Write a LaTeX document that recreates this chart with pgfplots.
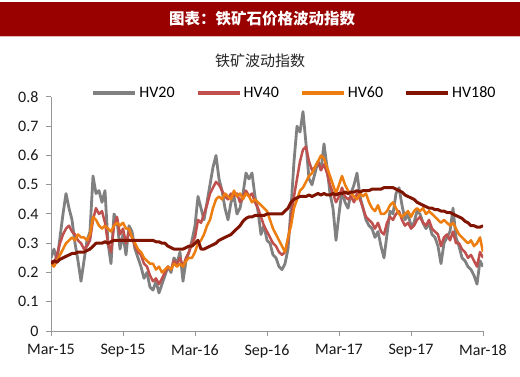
\documentclass[border=0pt]{standalone}
\usepackage{fontspec}
\setmainfont{Carlito}
\newfontfamily\cjk{Noto Sans CJK SC}
\usepackage{pgfplots}
\usepackage{pgfplotstable}
\pgfplotsset{compat=1.18}
\definecolor{hdr}{RGB}{153,0,0}
\definecolor{hvgray}{RGB}{128,128,128}
\definecolor{hvred}{RGB}{192,80,77}
\definecolor{hvorange}{RGB}{237,125,15}
\definecolor{hvdark}{RGB}{128,20,0}
\definecolor{axisgray}{RGB}{150,150,150}
\pgfplotstableread{
m g r o d
0 0.25 0.24 0.23 0.23
0.25 0.28 0.23 0.22 0.24
0.5 0.24 0.26 0.24 0.235
0.75 0.32 0.30 0.26 0.245
1 0.40 0.33 0.28 0.25
1.25 0.47 0.35 0.30 0.255
1.5 0.42 0.36 0.31 0.26
1.75 0.38 0.34 0.32 0.265
2 0.30 0.33 0.31 0.265
2.25 0.24 0.31 0.33 0.27
2.5 0.17 0.30 0.32 0.27
2.75 0.24 0.28 0.32 0.27
3 0.31 0.29 0.31 0.275
3.25 0.34 0.31 0.33 0.28
3.5 0.53 0.38 0.39 0.29
3.75 0.47 0.42 0.38 0.30
4 0.48 0.40 0.36 0.30
4.25 0.44 0.41 0.35 0.30
4.5 0.48 0.37 0.36 0.305
4.75 0.30 0.30 0.35 0.30
5 0.23 0.27 0.34 0.305
5.25 0.40 0.36 0.36 0.31
5.5 0.38 0.39 0.37 0.31
5.75 0.28 0.33 0.36 0.31
6 0.33 0.35 0.37 0.31
6.25 0.26 0.30 0.35 0.31
6.5 0.36 0.34 0.35 0.31
6.75 0.34 0.32 0.32 0.31
7 0.28 0.29 0.30 0.31
7.25 0.25 0.27 0.28 0.31
7.5 0.22 0.26 0.27 0.31
7.75 0.18 0.23 0.25 0.31
8 0.20 0.22 0.24 0.31
8.25 0.15 0.19 0.23 0.31
8.5 0.14 0.17 0.23 0.31
8.75 0.17 0.18 0.21 0.305
9 0.13 0.16 0.22 0.305
9.25 0.16 0.18 0.20 0.30
9.5 0.19 0.20 0.21 0.30
9.75 0.22 0.22 0.22 0.29
10 0.20 0.21 0.21 0.285
10.25 0.25 0.24 0.23 0.28
10.5 0.23 0.23 0.22 0.28
10.75 0.27 0.25 0.23 0.28
11 0.17 0.22 0.22 0.28
11.25 0.24 0.25 0.24 0.285
11.5 0.27 0.27 0.25 0.29
11.75 0.31 0.30 0.25 0.29
12 0.36 0.32 0.27 0.30
12.25 0.46 0.38 0.30 0.31
12.5 0.42 0.37 0.31 0.28
12.75 0.38 0.40 0.33 0.28
13 0.44 0.43 0.36 0.285
13.25 0.50 0.47 0.38 0.29
13.5 0.56 0.49 0.42 0.295
13.75 0.60 0.51 0.45 0.30
14 0.52 0.50 0.46 0.31
14.25 0.48 0.48 0.45 0.315
14.5 0.42 0.46 0.47 0.32
14.75 0.38 0.45 0.46 0.325
15 0.44 0.47 0.45 0.33
15.25 0.46 0.46 0.48 0.34
15.5 0.40 0.47 0.46 0.35
15.75 0.42 0.44 0.47 0.36
16 0.47 0.46 0.45 0.375
16.25 0.54 0.48 0.47 0.385
16.5 0.52 0.46 0.46 0.39
16.75 0.54 0.47 0.44 0.39
17 0.46 0.44 0.45 0.395
17.25 0.41 0.42 0.44 0.395
17.5 0.33 0.39 0.43 0.395
17.75 0.36 0.36 0.42 0.395
18 0.31 0.34 0.41 0.40
18.25 0.30 0.32 0.38 0.40
18.5 0.26 0.30 0.35 0.40
18.75 0.25 0.29 0.33 0.40
19 0.22 0.27 0.31 0.40
19.25 0.21 0.26 0.29 0.40
19.5 0.23 0.27 0.27 0.41
19.75 0.28 0.31 0.32 0.42
20 0.42 0.38 0.36 0.44
20.25 0.58 0.46 0.42 0.45
20.5 0.70 0.52 0.45 0.455
20.75 0.68 0.58 0.48 0.46
21 0.75 0.62 0.49 0.46
21.25 0.64 0.63 0.51 0.46
21.5 0.52 0.58 0.53 0.465
21.75 0.50 0.55 0.54 0.46
22 0.54 0.56 0.56 0.465
22.25 0.58 0.58 0.58 0.47
22.5 0.55 0.55 0.60 0.465
22.75 0.64 0.57 0.59 0.47
23 0.56 0.54 0.56 0.465
23.25 0.47 0.50 0.53 0.465
23.5 0.42 0.47 0.50 0.47
23.75 0.31 0.44 0.47 0.465
24 0.40 0.46 0.50 0.47
24.25 0.48 0.49 0.53 0.47
24.5 0.44 0.46 0.50 0.475
24.75 0.42 0.45 0.48 0.47
25 0.47 0.46 0.47 0.475
25.25 0.50 0.44 0.46 0.475
25.5 0.54 0.47 0.45 0.48
25.75 0.46 0.45 0.47 0.475
26 0.42 0.42 0.46 0.48
26.25 0.38 0.39 0.47 0.48
26.5 0.36 0.38 0.44 0.48
26.75 0.35 0.37 0.42 0.485
27 0.32 0.35 0.41 0.485
27.25 0.34 0.37 0.43 0.485
27.5 0.29 0.34 0.40 0.485
27.75 0.25 0.33 0.40 0.49
28 0.33 0.37 0.41 0.49
28.25 0.41 0.39 0.43 0.49
28.5 0.40 0.38 0.44 0.49
28.75 0.47 0.40 0.42 0.485
29 0.49 0.41 0.40 0.48
29.25 0.43 0.38 0.39 0.475
29.5 0.38 0.36 0.40 0.465
29.75 0.40 0.37 0.41 0.46
30 0.36 0.35 0.39 0.455
30.25 0.37 0.36 0.41 0.45
30.5 0.41 0.38 0.42 0.44
30.75 0.40 0.39 0.41 0.435
31 0.37 0.37 0.42 0.43
31.25 0.35 0.36 0.40 0.425
31.5 0.37 0.38 0.41 0.42
31.75 0.33 0.35 0.40 0.42
32 0.32 0.34 0.39 0.415
32.25 0.29 0.33 0.38 0.415
32.5 0.23 0.29 0.37 0.41
32.75 0.30 0.32 0.38 0.41
33 0.32 0.33 0.37 0.405
33.25 0.34 0.31 0.36 0.405
33.5 0.42 0.34 0.37 0.40
33.75 0.32 0.30 0.35 0.395
34 0.29 0.30 0.33 0.39
34.25 0.25 0.28 0.32 0.385
34.5 0.24 0.27 0.31 0.375
34.75 0.22 0.25 0.30 0.37
35 0.21 0.26 0.31 0.36
35.25 0.19 0.24 0.29 0.36
35.5 0.16 0.22 0.30 0.355
35.75 0.24 0.27 0.32 0.355
36 0.22 0.25 0.27 0.36
}\hvdata
\begin{document}
\begin{tikzpicture}
\path[use as bounding box, fill=white] (0bp,0bp) rectangle (520bp,377bp);
\fill[hdr] (0bp,341bp) rectangle (520bp,375bp);
\draw[color={rgb,255:red,230;green,180;blue,180}, line width=1bp] (0bp,340.5bp) -- (520bp,340.5bp);
\node[text=white, font=\cjk\bfseries\fontsize{15.5bp}{18bp}\selectfont] at (262bp,358bp) {图表：铁矿石价格波动指数};
\node[text=black!85, font=\cjk\fontsize{15bp}{18bp}\selectfont] at (260bp,316bp) {铁矿波动指数};
\begin{axis}[
  at={(51bp,46bp)}, anchor=south west, scale only axis,
  width=432bp, height=234bp,
  xmin=0, xmax=36, ymin=0, ymax=0.8,
  axis x line*=bottom, axis y line*=left,
  axis line style={draw=axisgray, line width=1bp, -},
  xtick={0,6,12,18,24,30,36},
  xticklabels={Mar-15,Sep-15,Mar-16,Sep-16,Mar-17,Sep-17,Mar-18},
  ytick={0,0.1,0.2,0.3,0.4,0.5,0.6,0.7,0.8},
  yticklabels={0,0.1,0.2,0.3,0.4,0.5,0.6,0.7,0.8},
  tick align=outside, major tick length=5bp,
  tick style={draw=axisgray, line width=1bp},
  ticklabel style={font=\fontsize{16bp}{18bp}\selectfont, text=black!90},
  xticklabel style={yshift=-5bp},
  yticklabel style={xshift=-4bp},
  /pgf/number format/assume math mode=true,
  legend columns=4,
  legend style={at={(0.093,1.017)}, anchor=west, draw=none, fill=none,
    font=\fontsize{16bp}{18bp}\selectfont, inner sep=0pt,
    /tikz/every even column/.append style={column sep=19bp}},
  legend image code/.code={\draw[#1, line width=4bp] (0bp,0bp) -- (42bp,0bp);},
  every axis plot/.append style={no marks, line join=round},
]
\addplot[draw=hvgray, line width=2.8bp] table[x=m, y=g] {\hvdata};
\addlegendentry{HV20}
\addplot[draw=hvred, line width=2.5bp] table[x=m, y=r] {\hvdata};
\addlegendentry{HV40}
\addplot[draw=hvorange, line width=2.5bp] table[x=m, y=o] {\hvdata};
\addlegendentry{HV60}
\addplot[draw=hvdark, line width=3bp] table[x=m, y=d] {\hvdata};
\addlegendentry{HV180}
\end{axis}
\end{tikzpicture}
\end{document}
